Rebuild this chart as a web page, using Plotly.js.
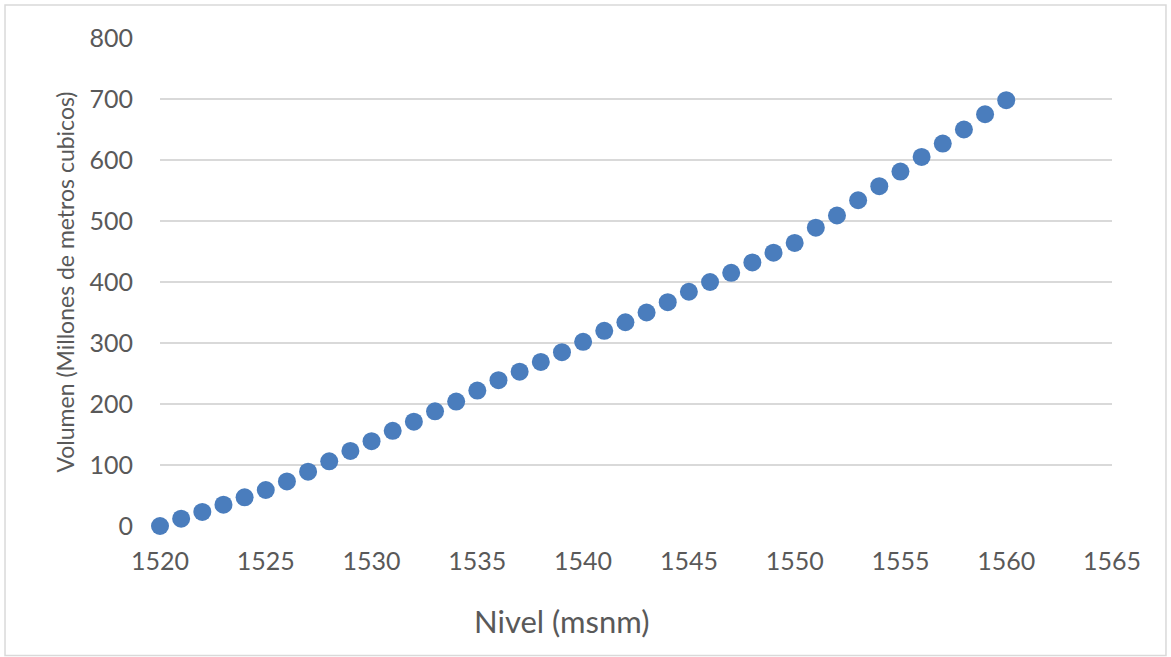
<!DOCTYPE html>
<html>
<head>
<meta charset="utf-8">
<script src="https://cdn.plot.ly/plotly-3.0.1.min.js"></script>
<style>html,body{margin:0;padding:0;background:#fff;}#chart{width:1171px;height:657px;}</style>
</head>
<body>
<div id="chart"></div>
<script>
const nivel = [1520,1521,1522,1523,1524,1525,1526,1527,1528,1529,1530,1531,1532,1533,1534,1535,1536,1537,1538,1539,1540,1541,1542,1543,1544,1545,1546,1547,1548,1549,1550,1551,1552,1553,1554,1555,1556,1557,1558,1559,1560];
const volumen = [0,12,23,35,47,59,73,89,106,123,139,156,171,188,204,222,239,253,269,285,302,320,334,350,367,384,400,415,432,448,464,489,509,534,557,581,605,627,650,675,698];
const xTicks = [1520,1525,1530,1535,1540,1545,1550,1555,1560,1565];
const yTicks = [0,100,200,300,400,500,600,700,800];
const xTitle = 'Nivel (msnm)';
const yTitle = 'Volumen (Millones de metros cubicos)';

const font = "Lato, 'Open Sans', sans-serif";
Plotly.newPlot('chart', [{
  x: nivel, y: volumen, type: 'scatter', mode: 'markers',
  marker: {color: '#4a7dbd', size: 18},
  cliponaxis: false,
  hoverinfo: 'x+y'
}], {
  width: 1171, height: 657,
  margin: {l: 160, r: 59, t: 38, b: 131},
  paper_bgcolor: '#fff', plot_bgcolor: '#fff',
  showlegend: false,
  font: {family: font, color: '#595959'},
  xaxis: {
    range: [1520, 1565], tickvals: xTicks, ticktext: xTicks.map(String),
    showgrid: false, zeroline: false, showline: false,
    tickfont: {size: 25, color: '#595959'}, ticklabelstandoff: 18
  },
  yaxis: {
    range: [0, 800], tickvals: yTicks, ticktext: yTicks.map(String),
    showgrid: true, gridcolor: '#d9d9d9', gridwidth: 1.5, zeroline: false, showline: false,
    tickfont: {size: 25, color: '#595959'}, ticklabelstandoff: 26,
    title: {text: yTitle, font: {size: 23, color: '#595959'}, standoff: 8}
  },
  annotations: [{
    text: xTitle, xref: 'paper', yref: 'paper', x: 0.422, y: -0.1947,
    xanchor: 'center', yanchor: 'middle', showarrow: false,
    font: {size: 31, color: '#595959', family: font}
  }],
  shapes: [{type: 'rect', xref: 'paper', yref: 'paper', x0: -0.1628, x1: 1.0567, y0: -0.2655, y1: 1.0676,
    line: {color: '#d9d9d9', width: 1.5}, fillcolor: 'rgba(0,0,0,0)', layer: 'below'}]
}, {displayModeBar: false, staticPlot: true});
</script>
</body>
</html>
